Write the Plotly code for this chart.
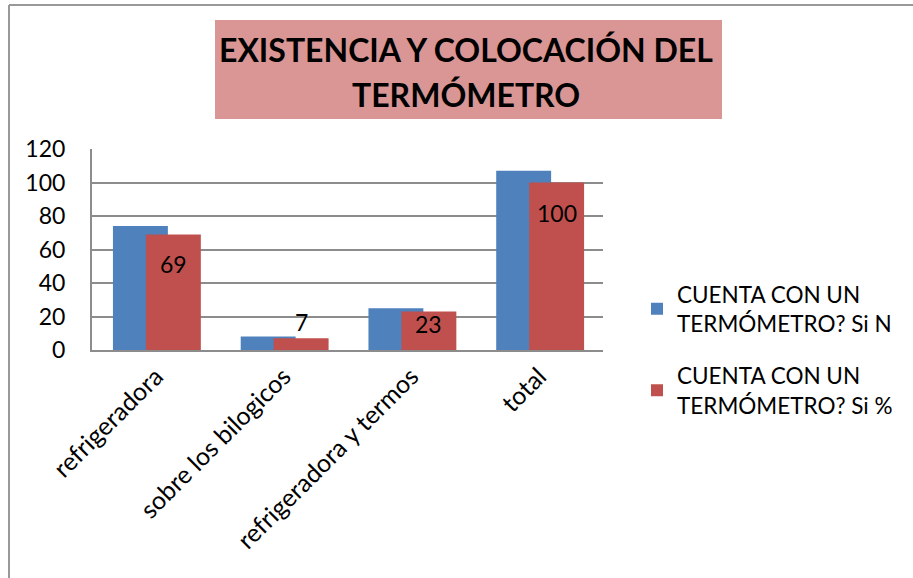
import plotly.graph_objects as go

categories = ["refrigeradora", "sobre los bilogicos", "refrigeradora y termos", "total"]
si_n = [74, 8, 25, 107]
si_pct = [69, 7, 23, 100]
series_names = ["CUENTA CON UN<br>TERMÓMETRO? Si N", "CUENTA CON UN<br>TERMÓMETRO? Si %"]
title_lines = ["EXISTENCIA Y COLOCACIÓN DEL", "TERMÓMETRO"]
y_ticks = [0, 20, 40, 60, 80, 100, 120]

FONT = "Lato, Calibri, sans-serif"
BLUE = "#4F81BD"
RED = "#C0504D"
GRID = "#8C8C8C"

# plot area in pixels (913x578 canvas)
L, R, T, B = 92, 603, 149, 350
W, H = 913, 578
Y_MAX = 120
BAR_W = 0.43
RED_OFF = -0.078


def px_x(px):
    return (px - L) / (R - L)


def px_y(py):
    return (B - py) / (B - T)


fig = go.Figure()
fig.add_trace(go.Bar(
    x=categories, y=si_n, name=series_names[0],
    marker=dict(color=BLUE, line=dict(width=0)),
    width=BAR_W, offset=-0.336, legendgroup="a",
))
fig.add_trace(go.Bar(
    x=categories, y=si_pct, name=series_names[1],
    marker=dict(color=RED, line=dict(width=0)),
    width=BAR_W, offset=RED_OFF, legendgroup="b",
))

# data labels for the red series, placed "inside end" like Excel
px_per_unit = (B - T) / Y_MAX
cat_px = (R - L) / len(categories)
red_center = (RED_OFF + BAR_W / 2) * cat_px
labels = []
for cat, v in zip(categories, si_pct):
    bar_h = v * px_per_unit
    if bar_h < 30:
        labels.append(dict(x=cat, y=v, text=str(v), yanchor="bottom",
                           yshift=0, xshift=red_center))
    else:
        labels.append(dict(x=cat, y=v, text=str(v), yanchor="top",
                           yshift=max(6 - min(20, bar_h - 36), 3) if bar_h < 60
                           else 6 - min(20, bar_h - 36),
                           xshift=red_center))
for a in labels:
    a.update(xref="x", yref="y", showarrow=False, xanchor="center",
             font=dict(family=FONT, size=23, color="black"))

shapes = [
    # outer frame
    dict(type="line", xref="paper", yref="paper", x0=px_x(9), x1=px_x(915),
         y0=px_y(5), y1=px_y(5), line=dict(color="#999999", width=2)),
    dict(type="line", xref="paper", yref="paper", x0=px_x(9), x1=px_x(9),
         y0=px_y(5), y1=px_y(580), line=dict(color="#999999", width=2)),
    # title box
    dict(type="rect", xref="paper", yref="paper", x0=px_x(215), x1=px_x(722),
         y0=px_y(119), y1=px_y(20), fillcolor="#D99694", line=dict(width=0),
         layer="below"),
]

title_anns = [
    dict(text="<b>" + line + "</b>", xref="paper", yref="paper",
         x=px_x(466), y=px_y(cy), xanchor="center", yanchor="middle",
         showarrow=False, font=dict(family=FONT, size=32, color="black"))
    for line, cy in zip(title_lines, [49, 94])
]

fig.update_layout(
    width=W, height=H,
    margin=dict(l=L, r=W - R, t=T, b=H - B, pad=0),
    paper_bgcolor="white", plot_bgcolor="white",
    barmode="overlay",
    font=dict(family=FONT, size=20, color="black"),
    shapes=shapes,
    annotations=title_anns + labels,
    xaxis=dict(
        type="category", showline=True, linecolor=GRID, linewidth=2,
        tickangle=-45, showgrid=False, ticks="",
        tickfont=dict(family=FONT, size=25),
    ),
    yaxis=dict(
        range=[0, Y_MAX], tickvals=y_ticks, showgrid=True, gridcolor=GRID,
        gridwidth=1.5, showline=True, linecolor=GRID, linewidth=2,
        zeroline=False, ticks="", ticklabelstandoff=20,
        tickfont=dict(family=FONT, size=23),
    ),
    showlegend=True,
    legend=dict(
        x=px_x(637), y=px_y(273), xanchor="left", yanchor="top",
        font=dict(family=FONT, size=22.5), tracegroupgap=20,
        itemwidth=30, traceorder="grouped",
    ),
)

# remove the default page margin so the chart sits at (0, 0)
fig.write_html("out.html", config={"displayModeBar": False},
               post_script="document.body.style.margin='0';")
